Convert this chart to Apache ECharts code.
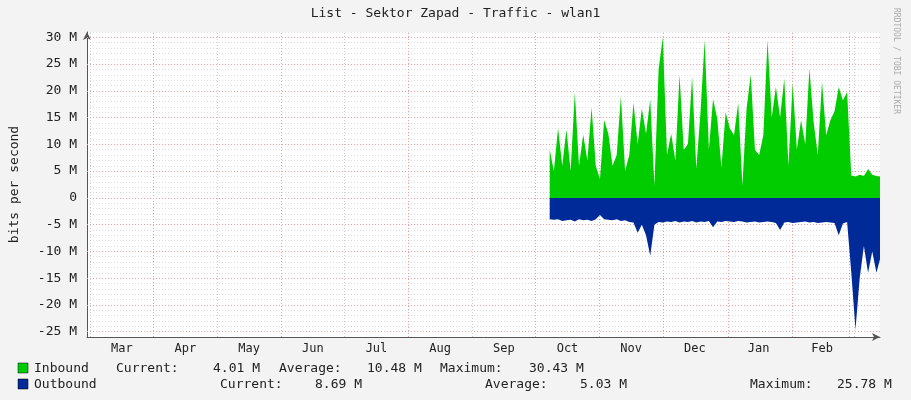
<!DOCTYPE html><html><head><meta charset="utf-8">
<script src="https://cdn.jsdelivr.net/npm/echarts@6/dist/echarts.min.js"></script>
<style>html,body{margin:0;background:#f3f3f3}#c{width:911px;height:400px}</style></head><body><div id="c"></div>
<script>
const months=['Mar','Apr','May','Jun','Jul','Aug','Sep','Oct','Nov','Dec','Jan','Feb'];
const startDay=219.5, stepDays=2, daysPerMonth=30.4;
const inbound=[9,5,13,6,12.8,5,19.7,6,11.8,7,16.9,6,3.5,14.5,12,6,8,19,5,8,17.8,10,16.7,12,18.4,2.3,24,30,8,12,7,23,9,10,22.6,5.4,16,29.5,9,18.5,14.8,5.7,16,13,11.7,17.8,2.3,16.7,23,9,8,11.7,29.5,15,20.7,15,22.3,6,21.4,9,14.5,10,24.2,14.2,8,21.7,11.7,14.5,16.2,20.7,18.2,19.8,4.2,4.0,4.3,4.1,5.4,4.3,4.1,4.0];
const outbound=[-4,-4.1,-4,-4.3,-4.2,-4.1,-4.4,-4,-4.2,-4.1,-4.3,-4,-3.2,-4,-4.1,-4.2,-4,-4.3,-4.2,-4.5,-4.6,-6.5,-5,-7,-10.8,-5,-4.5,-4.6,-4.4,-4.5,-4.3,-4.6,-4.4,-4.5,-4.3,-4.6,-4.4,-4.5,-4.3,-5.5,-4.4,-4.5,-4.3,-4.4,-4.5,-4.3,-4.4,-4.6,-4.5,-4.4,-4.6,-4.5,-4.4,-4.5,-4.7,-6,-4.6,-4.5,-4.7,-4.6,-4.5,-4.4,-4.6,-4.5,-4.7,-4.6,-4.5,-4.6,-4.7,-7,-4.8,-4.5,-14,-24.6,-15,-9,-14,-10,-14,-11];
const redMonthLines=[1,3,5,7,8,9,10.02,11.03,11.92];
const greyMonthLines=[0,2,4,6,12];
const yTicks=[-25,-20,-15,-10,-5,0,5,10,15,20,25,30];
const F='DejaVu Sans Mono';
const toPts=a=>a.map((v,i)=>[startDay+i*stepDays,v]);
const vline=(m,c)=>({xAxis:m*daysPerMonth,lineStyle:{color:c,type:[1,2],width:1}});
const T=(x,y,t)=>({type:'text',x:x,y:y,style:{text:t,font:'13px '+F,fill:'#222'}});
const c=echarts.init(document.getElementById('c'));
c.setOption({
 backgroundColor:'#f3f3f3',animation:false,
 textStyle:{fontFamily:F},
 grid:{left:83,right:31,top:32,bottom:63,show:true,backgroundColor:'#ffffff',borderWidth:0},
 xAxis:{type:'value',min:-1.4,max:377.2,
  axisLine:{onZero:false,lineStyle:{color:'#555'},symbol:['none','arrow'],symbolSize:[6,8]},
  axisTick:{show:false},splitLine:{show:false},
  axisLabel:{customValues:months.map((m,i)=>(i+0.5)*daysPerMonth),formatter:v=>months[Math.round(v/daysPerMonth-0.5)],color:'#222',fontFamily:F,fontSize:12,margin:6}},
 yAxis:{type:'value',min:-26,max:31,interval:1,
  name:'bits per second',nameLocation:'middle',nameGap:66,nameTextStyle:{fontFamily:F,fontSize:13,color:'#222'},
  axisLine:{show:true,onZero:false,lineStyle:{color:'#555'},symbol:['none','arrow'],symbolSize:[6,8]},
  axisTick:{show:false},
  splitLine:{lineStyle:{color:'#ddd',type:[1,2]}},
  axisLabel:{customValues:yTicks,formatter:v=>v===0?'0':v+' M',color:'#222',fontFamily:F,fontSize:13,margin:10}},
 series:[
  {type:'line',data:toPts(inbound),symbol:'none',lineStyle:{width:0},areaStyle:{color:'#00cc00',opacity:1},itemStyle:{color:'#00cc00'},
   markLine:{silent:true,symbol:'none',label:{show:false},z:1,data:[
    ...greyMonthLines.map(m=>vline(m,'#ccc')),...redMonthLines.map(m=>vline(m,'#f0a0a0')),
    ...yTicks.map(v=>({yAxis:v,lineStyle:{color:'#f0a0a0',type:[1,2],width:1}}))]}},
  {type:'line',data:toPts(outbound),symbol:'none',lineStyle:{width:0},areaStyle:{color:'#002a97',opacity:1},itemStyle:{color:'#002a97'}}
 ],
 graphic:[
  {type:'text',left:'center',top:7,style:{text:'List - Sektor Zapad - Traffic - wlan1',font:'13px '+F,fill:'#222'}},
  {type:'text',x:900,y:8,rotation:-Math.PI/2,style:{text:'RRDTOOL / TOBI OETIKER',font:'8px '+F,fill:'#aaa'}},
  {type:'rect',shape:{x:18,y:363,width:10,height:10},style:{fill:'#00cc00',stroke:'#000',lineWidth:0.5}},
  {type:'rect',shape:{x:18,y:379,width:10,height:10},style:{fill:'#002a97',stroke:'#000',lineWidth:0.5}},
  T(34,362,'Inbound'),T(116,362,'Current:'),T(213,362,'4.01 M'),T(279,362,'Average:'),T(367,362,'10.48 M'),T(440,362,'Maximum:'),T(529,362,'30.43 M'),
  T(34,378,'Outbound'),T(220,378,'Current:'),T(315,378,'8.69 M'),T(485,378,'Average:'),T(580,378,'5.03 M'),T(750,378,'Maximum:'),T(837,378,'25.78 M')
 ]
});
</script></body></html>
